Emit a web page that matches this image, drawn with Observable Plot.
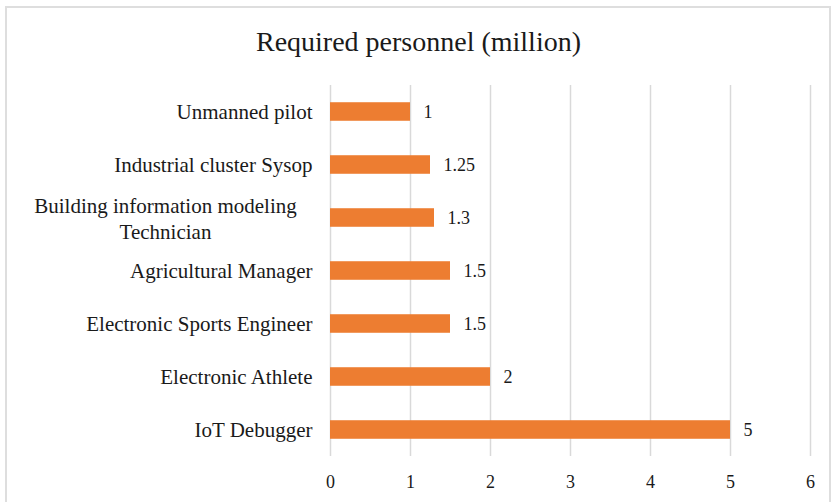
<!DOCTYPE html>
<html>
<head>
<meta charset="utf-8">
<script src="https://cdn.jsdelivr.net/npm/d3@7"></script>
<script src="https://cdn.jsdelivr.net/npm/@observablehq/plot@0.6"></script>
<style>
  html, body { margin: 0; padding: 0; background: #fff; }
  body { width: 837px; height: 502px; position: relative; overflow: hidden; font-family: "Liberation Serif", "Times New Roman", serif; }
  #frame { position: absolute; left: 5px; top: 6px; width: 826px; height: 510px; border: 2px solid #dedede; box-sizing: border-box; }
  #title { position: absolute; left: 0; top: 0; width: 837px; height: 70px; text-align: center; font-size: 28px; line-height: 28px; padding-top: 28px; box-sizing: border-box; color: #1a1a1a; }
  #chart { position: absolute; left: 0; top: 70px; }
</style>
</head>
<body>
<div id="frame"></div>
<div id="title">Required personnel (million)</div>
<div id="chart"></div>
<script>
const categories = [
  "Unmanned pilot",
  "Industrial cluster Sysop",
  "Building information modeling\nTechnician",
  "Agricultural Manager",
  "Electronic Sports Engineer",
  "Electronic Athlete",
  "IoT Debugger"
];
const values = [1, 1.25, 1.3, 1.5, 1.5, 2, 5];
const valueLabels = ["1", "1.25", "1.3", "1.5", "1.5", "2", "5"];
const xTicks = [0, 1, 2, 3, 4, 5, 6];

const data = categories.map((c, i) => ({category: c, value: values[i], label: valueLabels[i]}));
const multi = categories.filter(c => c.includes("\n"));

const chart = Plot.plot({
  width: 837,
  height: 432,
  marginLeft: 330,
  marginRight: 27,
  marginTop: 15,
  marginBottom: 46,
  style: {fontFamily: "'Liberation Serif', 'Times New Roman', serif", fontSize: "18px", color: "#1a1a1a", background: "transparent"},
  x: {domain: [0, 6], ticks: xTicks, label: null},
  y: {domain: categories, paddingInner: 0.65, paddingOuter: 0.325, round: false, label: null},
  marks: [
    Plot.ruleX(xTicks, {stroke: "#d9d9d9", strokeWidth: 1.5}),
    Plot.barX(data, {x: "value", y: "category", fill: "#ED7D31"}),
    Plot.text(data, {x: "value", y: "category", text: "label", textAnchor: "start", dx: 13, fontSize: 18, fill: "#1a1a1a"}),
    Plot.axisX({ticks: xTicks, tickSize: 0, tickPadding: 19, fontSize: 18, label: null, tickFormat: d => String(d)}),
    Plot.axisY({tickSize: 0, tickPadding: 18, fontSize: 21, label: null, tickFormat: d => d.includes("\n") ? "" : d}),
    Plot.text(multi, {y: d => d, text: d => d, frameAnchor: "left", dx: -165, textAnchor: "middle", fontSize: 21, lineHeight: 1.24, fill: "#1a1a1a"})
  ]
});
document.getElementById("chart").appendChild(chart);
</script>
</body>
</html>
